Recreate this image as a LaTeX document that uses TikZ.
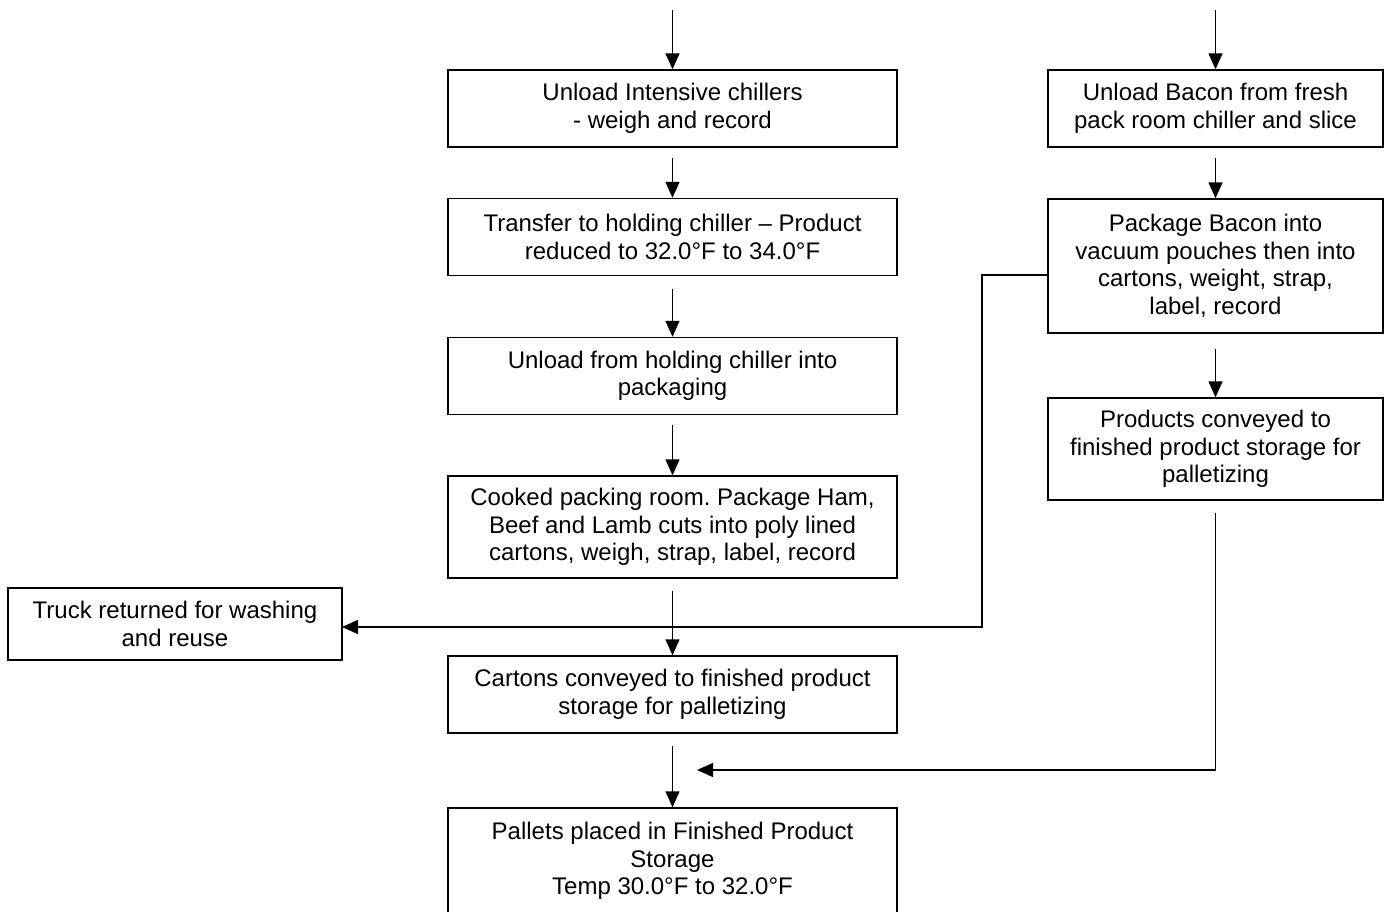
\documentclass[tikz,border=0pt]{standalone}
\usepackage{fontspec}
\setmainfont{Liberation Sans}
\usetikzlibrary{arrows.meta,calc}
\frenchspacing
\begin{document}
\begin{tikzpicture}[x=1pt,y=-1pt,
  box/.style={draw,line width=1.4pt,align=center,inner sep=0pt,
    font=\fontsize{24}{27.5}\selectfont},
  arr/.style={line width=1.4pt,-{Triangle[length=16pt,width=14pt]}},
  ln/.style={line width=1.4pt}]
\useasboundingbox (0,0) rectangle (1391,911);
% left column
\node[box,minimum width=449,minimum height=77] (b1) at (672.5,108.5) {Unload Intensive chillers\\- weigh and record};
\node[box,minimum width=449,minimum height=77] (b2) at (672.5,237) {Transfer to holding chiller -- Product\\reduced to 32.0°F to 34.0°F};
\node[box,minimum width=449,minimum height=77] (b3) at (672.5,376) {Unload from holding chiller into\\packaging};
\node[box,minimum width=449,minimum height=102] (b4) at (672.5,527) {Cooked packing room. Package Ham,\\Beef and Lamb cuts into poly lined\\cartons, weigh, strap, label, record};
\node[box,minimum width=449,minimum height=77] (b5) at (672.5,694.5) {Cartons conveyed to finished product\\storage for palletizing};
\node[box,minimum width=449,minimum height=106] (b6) at (672.5,861) {Pallets placed in Finished Product\\Storage\\Temp 30.0°F to 32.0°F};
\node[box,minimum width=334,minimum height=72] (tr) at (175,624) {Truck returned for washing\\and reuse};
% right column
\node[box,minimum width=335,minimum height=77] (r1) at (1215.5,108.5) {Unload Bacon from fresh\\pack room chiller and slice};
\node[box,minimum width=335,minimum height=134] (r2) at (1215.5,266) {Package Bacon into\\vacuum pouches then into\\cartons, weight, strap,\\label, record};
\node[box,minimum width=335,minimum height=102] (r3) at (1215.5,449) {Products conveyed to\\finished product storage for\\palletizing};
% coordinates
\coordinate (ltop) at (672.5,10);
\coordinate (rtop) at (1215.5,10);
\coordinate (r2out) at (1048,275);
\coordinate (bend1) at (982,275);
\coordinate (trin) at (342,627);
\coordinate (r3out) at (1215.5,513);
\coordinate (bend2) at (1215.5,770);
\coordinate (mergein) at (697,770);
% arrows left
\draw[arr] (ltop) -- (b1.north);
\draw[arr] ($(b1.south)+(0,10)$) -- (b2.north);
\draw[arr] ($(b2.south)+(0,13)$) -- (b3.north);
\draw[arr] ($(b3.south)+(0,10)$) -- (b4.north);
\draw[arr] ($(b4.south)+(0,12)$) -- (b5.north);
\draw[arr] ($(b5.south)+(0,12)$) -- (b6.north);
% arrows right
\draw[arr] (rtop) -- (r1.north);
\draw[arr] ($(r1.south)+(0,10)$) -- (r2.north);
\draw[arr] ($(r2.south)+(0,15)$) -- (r3.north);
% to truck
\draw[arr] (r2out) -- (bend1) |- (trin);
% merge
\draw[arr] (r3out) -- (bend2) -- (mergein);
\end{tikzpicture}
\end{document}
